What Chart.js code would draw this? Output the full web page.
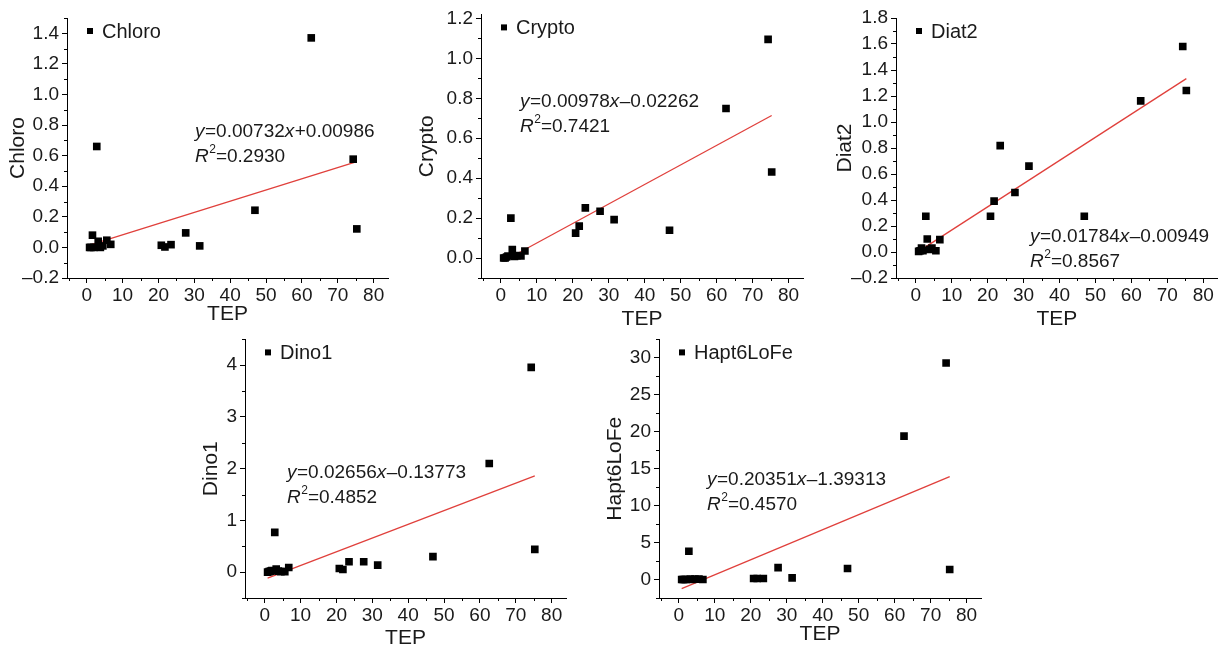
<!DOCTYPE html>
<html><head><meta charset="utf-8">
<script src="https://cdn.jsdelivr.net/npm/chart.js@4.4.1/dist/chart.umd.min.js"></script>
<style>
html,body{margin:0;padding:0;background:#fff;width:1223px;height:648px;overflow:hidden;position:relative}
canvas{position:absolute}
</style></head><body>
<script>
// ---- data ----
const TEP = [0.8, 1.2, 1.6, 2.0, 2.8, 3.2, 3.8, 4.5, 5.6, 6.7, 20.8, 21.8, 23.5, 27.6, 31.5, 46.9, 62.6, 74.3, 75.3];
const CHLORO = [0.0, 0.0, 0.08, 0.0, 0.66, 0.04, 0.0, 0.01, 0.047, 0.02, 0.014, 0.003, 0.018, 0.095, 0.01, 0.243, 1.37, 0.577, 0.121];
const CRYPTO = [0.0, 0.0, 0.005, 0.01, 0.2, 0.042, 0.008, 0.012, 0.01, 0.035, 0.125, 0.16, 0.251, 0.234, 0.192, 0.139, 0.749, 1.095, 0.431];
const DIAT2 = [0.005, 0.01, 0.03, 0.01, 0.275, 0.10, 0.02, 0.03, 0.01, 0.095, 0.275, 0.391, 0.818, 0.458, 0.661, 0.275, 1.162, 1.581, 1.242];
const DINO1 = [0.0, 0.01, 0.02, 0.03, 0.77, 0.06, 0.02, 0.01, 0.01, 0.09, 0.07, 0.05, 0.2, 0.2, 0.135, 0.30, 2.10, 3.96, 0.44];
const HAPT6LOFE = [0.0, 0.0, 0.0, 0.0, 3.83, 0.05, 0.0, 0.05, 0.05, 0.0, 0.14, 0.14, 0.14, 1.62, 0.23, 1.49, 19.4, 29.3, 1.35];

const SERIES_NAMES = ['Chloro', 'Crypto', 'Diat2', 'Dino1', 'Hapt6LoFe'];
const SERIES_VALUES = [CHLORO, CRYPTO, DIAT2, DINO1, HAPT6LOFE];
const SLOPES = [0.00732, 0.00978, 0.01784, 0.02656, 0.20351];
const INTERCEPTS = [0.00986, -0.02262, -0.00949, -0.13773, -1.39313];
const R2_TEXT = ['0.2930', '0.7421', '0.8567', '0.4852', '0.4570'];

const X_TICKS = [0, 10, 20, 30, 40, 50, 60, 70, 80];
const Y_TICKS_CHLORO = [-0.2, 0, 0.2, 0.4, 0.6, 0.8, 1.0, 1.2, 1.4];
const Y_TICKS_CRYPTO = [0, 0.2, 0.4, 0.6, 0.8, 1.0, 1.2];
const Y_TICKS_DIAT2 = [-0.2, 0, 0.2, 0.4, 0.6, 0.8, 1.0, 1.2, 1.4, 1.6, 1.8];
const Y_TICKS_DINO1 = [0, 1, 2, 3, 4];
const Y_TICKS_HAPT = [0, 5, 10, 15, 20, 25, 30];
const Y_TICKS = [Y_TICKS_CHLORO, Y_TICKS_CRYPTO, Y_TICKS_DIAT2, Y_TICKS_DINO1, Y_TICKS_HAPT];
const Y_DECIMALS = [1, 1, 1, 0, 0];
const Y_RANGES = [[-0.2, 1.5], [-0.1, 1.22], [-0.2, 1.8], [-0.5, 4.5], [-2.5, 32.5]];
const Y_MINOR = [0.1, 0.1, 0.1, 0.5, 2.5];
const X_RANGE = [-5.5, 84];

// ---- layout (pixels) ----
const LAYOUT = [
  {rect: [0, 0, 405, 332],   ca: [67, 18, 388, 278],  yTitleX: 18,  xTitleY: 314, eq: [195, 132]},
  {rect: [410, 0, 400, 332], ca: [481, 14, 803, 278], yTitleX: 427, xTitleY: 319, eq: [520, 102]},
  {rect: [815, 0, 408, 332], ca: [896, 18, 1218, 278], yTitleX: 845, xTitleY: 319, eq: [1030, 237]},
  {rect: [190, 325, 400, 323], ca: [245, 338, 566, 598], yTitleX: 211, xTitleY: 638, eq: [287, 473]},
  {rect: [600, 325, 400, 323], ca: [659, 338, 981, 598], yTitleX: 615, xTitleY: 634, eq: [707, 480]}
];

const FONT = "'Liberation Sans', Arial, Helvetica, sans-serif";
const DASH = '\u2013';

function fmt(v, dec) {
  const s = Math.abs(v).toFixed(dec);
  return (v < -1e-9 ? DASH : '') + s;
}

const minorTicks = {
  id: 'minorTicks',
  afterDraw(chart, args, opts) {
    const ctx = chart.ctx, xs = chart.scales.x, ys = chart.scales.y;
    ctx.save();
    ctx.strokeStyle = '#000';
    ctx.lineWidth = 1;
    const run = (scale, step, horiz) => {
      const majors = scale.ticks.map(t => t.value);
      const i0 = Math.ceil(scale.min / step - 1e-6), i1 = Math.floor(scale.max / step + 1e-6);
      for (let i = i0; i <= i1; i++) {
        const v = i * step;
        if (majors.some(m => Math.abs(m - v) < step * 1e-3)) continue;
        const p = Math.round(scale.getPixelForValue(v)) + 0.5;
        ctx.beginPath();
        if (horiz) { ctx.moveTo(p, xs.top); ctx.lineTo(p, xs.top + 3); }
        else { ctx.moveTo(ys.right, p); ctx.lineTo(ys.right - 3, p); }
        ctx.stroke();
      }
    };
    run(xs, opts.xStep, true);
    run(ys, opts.yStep, false);
    ctx.restore();
  }
};

const insideLegend = {
  id: 'insideLegend',
  afterDraw(chart) {
    const ctx = chart.ctx, a = chart.chartArea;
    const label = chart.data.datasets[0].label;
    ctx.save();
    ctx.fillStyle = '#000';
    const cx = a.left + 23, cy = a.top + 13;
    ctx.fillRect(cx - 3, cy - 3, 6, 6);
    ctx.fillStyle = '#1a1a1a';
    ctx.font = '20px ' + FONT;
    ctx.textBaseline = 'middle';
    ctx.fillText(label, cx + 12, cy + 1);
    ctx.restore();
  }
};

const equation = {
  id: 'equation',
  afterDraw(chart, args, opts) {
    const ctx = chart.ctx;
    ctx.save();
    ctx.fillStyle = '#1a1a1a';
    ctx.textBaseline = 'middle';
    const drawParts = (parts, x, y) => {
      for (const p of parts) {
        const size = p.sup ? 12 : 19;
        ctx.font = (p.i ? 'italic ' : '') + size + 'px ' + FONT;
        const yy = p.sup ? y - 7 : y;
        ctx.fillText(p.t, x, yy);
        x += ctx.measureText(p.t).width + (p.i ? 0.5 : 0);
      }
    };
    const b = opts.intercept;
    drawParts([
      {t: 'y', i: true}, {t: '=' + opts.slope.toFixed(5)}, {t: 'x', i: true},
      {t: (b < 0 ? DASH : '+') + Math.abs(b).toFixed(5)}
    ], opts.x, opts.y);
    drawParts([{t: 'R', i: true}, {t: '2', sup: true}, {t: '=' + opts.r2}], opts.x, opts.y + 25);
    ctx.restore();
  }
};

const xMin = Math.min(...TEP), xMax = Math.max(...TEP);

SERIES_NAMES.forEach((name, k) => {
  const L = LAYOUT[k];
  const [rx, ry, rw, rh] = L.rect;
  const [cl, ct, cr, cb] = L.ca;
  const cv = document.createElement('canvas');
  cv.width = rw; cv.height = rh;
  cv.style.left = rx + 'px'; cv.style.top = ry + 'px';
  cv.style.width = rw + 'px'; cv.style.height = rh + 'px';
  document.body.appendChild(cv);

  const titleLH = 25;
  const pts = TEP.map((x, i) => ({x: x, y: SERIES_VALUES[k][i]}));
  const a = SLOPES[k], b = INTERCEPTS[k];
  const fit = [{x: xMin, y: a * xMin + b}, {x: xMax, y: a * xMax + b}];

  new Chart(cv, {
    type: 'scatter',
    data: {
      datasets: [
        {label: name, data: pts, pointStyle: 'rect', pointRadius: 5.4, backgroundColor: '#000', borderWidth: 0, order: 1},
        {type: 'line', label: 'fit', data: fit, borderColor: '#e0403c', borderWidth: 1.3, pointRadius: 0, fill: false, order: 2}
      ]
    },
    options: {
      responsive: false,
      animation: false,
      events: [],
      devicePixelRatio: 1,
      layout: {padding: {left: 0, top: ct - ry, right: (rx + rw) - cr, bottom: 0}},
      plugins: {
        legend: {display: false},
        tooltip: {enabled: false},
        minorTicks: {xStep: 5, yStep: Y_MINOR[k]},
        equation: {x: L.eq[0] - rx, y: L.eq[1] - ry, slope: a, intercept: b, r2: R2_TEXT[k]}
      },
      scales: {
        x: {
          type: 'linear', min: X_RANGE[0], max: X_RANGE[1],
          afterBuildTicks: s => { s.ticks = X_TICKS.map(v => ({value: v})); },
          afterFit: s => { s.height = (ry + rh) - cb; },
          border: {display: true, color: '#000', width: 1},
          grid: {display: true, drawOnChartArea: false, drawTicks: true, tickLength: 5, tickColor: '#000', tickWidth: 1},
          ticks: {autoSkip: false, maxRotation: 0, padding: 1, color: '#1a1a1a', font: {family: FONT, size: 19},
                  callback: v => fmt(v, 0)},
          title: {display: true, text: 'TEP', color: '#1a1a1a', font: {family: FONT, size: 21, lineHeight: 1.2},
                  padding: {top: 0, bottom: (ry + rh) - L.xTitleY - titleLH / 2}}
        },
        y: {
          type: 'linear', min: Y_RANGES[k][0], max: Y_RANGES[k][1],
          afterBuildTicks: s => { s.ticks = Y_TICKS[k].map(v => ({value: v})); },
          afterFit: s => { s.width = cl - rx; },
          border: {display: true, color: '#000', width: 1},
          grid: {display: true, drawOnChartArea: false, drawTicks: true, tickLength: 5, tickColor: '#000', tickWidth: 1},
          ticks: {autoSkip: false, padding: 3, color: '#1a1a1a', font: {family: FONT, size: 19},
                  callback: v => fmt(v, Y_DECIMALS[k])},
          title: {display: true, text: name, color: '#1a1a1a', font: {family: FONT, size: 21, lineHeight: 1.2},
                  padding: {top: L.yTitleX - rx - titleLH / 2, bottom: 0}}
        }
      }
    },
    plugins: [minorTicks, insideLegend, equation]
  });
});
</script>
</body></html>
